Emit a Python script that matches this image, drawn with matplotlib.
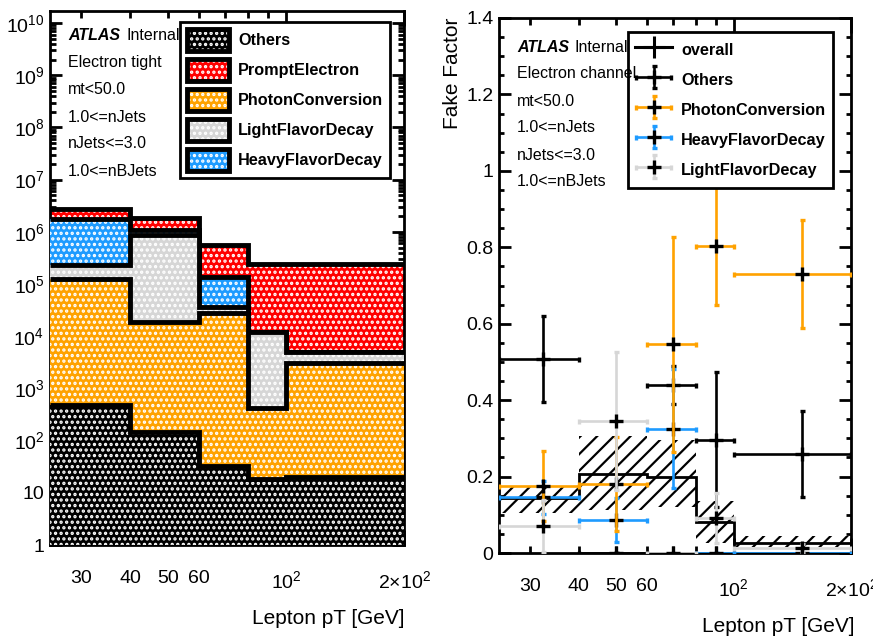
import numpy as np
import matplotlib
matplotlib.use('Agg')
import matplotlib.pyplot as plt
from matplotlib.patches import Patch
from matplotlib.lines import Line2D
from matplotlib.ticker import FixedLocator, FixedFormatter, NullFormatter, LogLocator, MultipleLocator, FuncFormatter
from matplotlib.legend_handler import HandlerErrorbar, HandlerTuple
from matplotlib.container import ErrorbarContainer

plt.rcParams['font.family'] = ['Liberation Sans', 'DejaVu Sans']
plt.rcParams['mathtext.fontset'] = 'custom'
plt.rcParams['mathtext.rm'] = 'Liberation Sans'
plt.rcParams['mathtext.it'] = 'Liberation Sans:italic'
plt.rcParams['mathtext.bf'] = 'Liberation Sans:bold'
plt.rcParams['hatch.linewidth'] = 1.6

# ---------------- data ----------------
pt_edges = [25, 40, 60, 80, 100, 200]

# left panel: stacked yields (bottom -> top)
others_yield = [479, 148, 33, 18, 20]
photon_yield = [1.245e5, 1.885e4, 2.8e4, 402, 3080]
light_yield = [1.06e5, 8.31e5, 8.0e3, 1.16e4, 1.8e3]
heavy_yield = [1.53e6, 2.5e5, 1.0e5, 0, 0]
prompt_yield = [9.8e5, 7.5e5, 4.24e5, 2.28e5, 2.35e5]

# right panel: fake factors
ff_overall = [0.143, 0.207, 0.200, 0.080, 0.027]
ff_overall_lo = [0.105, 0.113, 0.120, 0.025, 0.017]
ff_overall_hi = [0.173, 0.305, 0.295, 0.135, 0.045]
ff_others = [0.507, 0.0, 0.440, 0.297, 0.259]
ff_others_err = [0.113, 0.0, 0.05, 0.177, 0.113]
ff_photon = [0.176, 0.181, 0.546, 0.804, 0.730]
ff_photon_err = [0.091, 0.123, 0.282, 0.155, 0.142]
ff_heavy = [0.146, 0.087, 0.325, 0.0, 0.0]
ff_heavy_err = [0.043, 0.058, 0.156, 0.0, 0.0]
ff_light = [0.071, 0.345, 0.0, 0.091, 0.013]
ff_light_err = [0.068, 0.180, 0.0, 0.066, 0.010]

left_text = ['Electron tight', 'mt<50.0', '1.0<=nJets', 'nJets<=3.0', '1.0<=nBJets']
right_text = ['Electron channel', 'mt<50.0', '1.0<=nJets', 'nJets<=3.0', '1.0<=nBJets']

x_major = [100, 200]
x_major_labels = ['$10^{2}$', '$2{\\times}10^{2}$']
x_minor = [30, 40, 50, 60, 70, 80, 90]
x_minor_labels = ['30', '40', '50', '60', '', '', '']

# ---------------- figure ----------------
W, H = 873, 641
fig = plt.figure(figsize=(W / 100, H / 100), dpi=100)


def rect(x0, y0, x1, y1):
    return [x0 / W, 1 - y1 / H, (x1 - x0) / W, (y1 - y0) / H]


def fx(x):
    return x / W


def fy(y):
    return 1 - y / H


axL = fig.add_axes(rect(50, 10.7, 404, 545))
axR = fig.add_axes(rect(499, 18, 851, 553))

edges = np.array(pt_edges, dtype=float)
centers = 0.5 * (edges[:-1] + edges[1:])
halfw = 0.5 * (edges[1:] - edges[:-1])

# ---------------- left: stack ----------------
comps = np.array([others_yield, photon_yield, light_yield, heavy_yield, prompt_yield], dtype=float)
cum = np.cumsum(comps, axis=0)
stack_colors = ['#000000', '#ffa200', '#d6d6d6', '#1e9bff', '#ff0000']
axL.set_xscale('log')
axL.set_yscale('log')
axL.set_xlim(25, 200)
axL.set_ylim(1, 10 ** 10.236)
for k in reversed(range(len(comps))):
    z = 2 + (len(comps) - 1 - k) * 2
    axL.stairs(cum[k], edges, baseline=0.5, fill=True, facecolor=stack_colors[k],
               edgecolor='white', linewidth=0, hatch='...', zorder=z)
    axL.stairs(cum[k], edges, baseline=None, fill=False, edgecolor='black',
               linewidth=3.5, zorder=z + 1)

# ---------------- right: fake factors ----------------
axR.set_xscale('log')
axR.set_xlim(25, 200)
axR.set_ylim(0, 1.4)
axR.stairs(ff_overall_hi, edges, baseline=ff_overall_lo, fill=True, facecolor='none',
           edgecolor='black', linewidth=0, hatch='//', zorder=2)
axR.stairs(ff_overall, edges, baseline=None, fill=False, edgecolor='black',
           linewidth=2.0, zorder=3)

ekw = dict(fmt='+', mec='black', mfc='black', ms=10, mew=2.4, elinewidth=1.9,
           capsize=1.8, capthick=1.9)
e_others = axR.errorbar(centers, ff_others, xerr=halfw, yerr=ff_others_err,
                        ecolor='black', zorder=4, **ekw)
e_heavy = axR.errorbar(centers, ff_heavy, xerr=halfw, yerr=ff_heavy_err,
                       ecolor='#1e9bff', zorder=5, **ekw)
e_photon = axR.errorbar(centers, ff_photon, xerr=halfw, yerr=ff_photon_err,
                        ecolor='#ffa200', zorder=6, **ekw)
e_light = axR.errorbar(centers, ff_light, xerr=halfw, yerr=ff_light_err,
                       ecolor='#d6d6d6', zorder=7, **ekw)

# ---------------- axes styling ----------------
for ax in (axL, axR):
    for s in ax.spines.values():
        s.set_linewidth(2)
    ax.tick_params(which='both', direction='in', top=True, right=True, width=2,
                   labelsize=14)
    ax.tick_params(axis='x', which='major', length=10.5, pad=18)
    ax.tick_params(axis='x', which='minor', length=5, pad=18)
    ax.tick_params(axis='y', which='major', length=8.5, pad=4)
    ax.tick_params(axis='y', which='minor', length=4)
    ax.xaxis.set_major_locator(FixedLocator(x_major))
    ax.xaxis.set_major_formatter(FixedFormatter(x_major_labels))
    ax.xaxis.set_minor_locator(FixedLocator(x_minor))
    ax.xaxis.set_minor_formatter(FixedFormatter(x_minor_labels))
    ax.tick_params(axis='x', which='minor', labelsize=14)


def log_label(v, p):
    if v <= 1.0001:
        return '1'
    if abs(v - 10) < 1e-6:
        return '10'
    return '$10^{%d}$' % int(round(np.log10(v)))


axL.yaxis.set_major_locator(LogLocator(base=10, numticks=20))
axL.yaxis.set_major_formatter(FuncFormatter(log_label))
axL.yaxis.set_minor_locator(LogLocator(base=10, subs=np.arange(2, 10), numticks=100))
axL.yaxis.set_minor_formatter(NullFormatter())

axR.yaxis.set_major_locator(MultipleLocator(0.2))
axR.yaxis.set_major_formatter(FuncFormatter(lambda v, p: '%g' % round(v, 2)))
axR.yaxis.set_minor_locator(MultipleLocator(0.05))
axR.tick_params(axis='y', which='minor', length=3.5)

# axis titles
fig.text(fx(405), fy(618), 'Lepton pT [GeV]', ha='right', va='center', fontsize=15)
fig.text(fx(855), fy(627), 'Lepton pT [GeV]', ha='right', va='center', fontsize=15)
fig.text(fx(452), fy(18), 'Fake Factor', ha='center', va='top', rotation=90, fontsize=15)

# ATLAS labels
for (x0, xi, y0, lines) in [(68, 127, 36, left_text), (517, 574, 47, right_text)]:
    fig.text(fx(x0), fy(y0), 'ATLAS', fontweight='bold', style='italic', fontsize=11.5,
             ha='left', va='center')
    fig.text(fx(xi), fy(y0), 'Internal', fontsize=11.5, ha='left', va='center')
    for i, t in enumerate(lines):
        fig.text(fx(x0), fy(y0 + 27 * (i + 1)), t, fontsize=11.5, ha='left', va='center')

# ---------------- legends ----------------
leg_order = [0, 4, 1, 2, 3]
leg_names = ['Others', 'PromptElectron', 'PhotonConversion', 'LightFlavorDecay', 'HeavyFlavorDecay']
handlesL = []
for k in leg_order:
    handlesL.append((Patch(facecolor=stack_colors[k], edgecolor='white', linewidth=0, hatch='...'),
                     Patch(facecolor='none', edgecolor='black', linewidth=3.5)))
legL = axL.legend(handlesL, leg_names, handler_map={tuple: HandlerTuple(ndivide=1, pad=0)},
                  loc='upper left', bbox_to_anchor=(fx(180), fy(22)), bbox_transform=fig.transFigure,
                  borderaxespad=0, fancybox=False, edgecolor='black', framealpha=1,
                  prop={'weight': 'bold', 'size': 11.7}, handlelength=2.6, handleheight=1.75,
                  handletextpad=0.55, labelspacing=0.46, borderpad=0.42)
legL.get_frame().set_linewidth(2)
legL.set_zorder(20)

h_overall = Line2D([], [], color='black', lw=2.2, marker='+', ms=16, mew=2.2)
legR = axR.legend([h_overall, e_others, e_photon, e_heavy, e_light],
                  ['overall', 'Others', 'PhotonConversion', 'HeavyFlavorDecay', 'LightFlavorDecay'],
                  handler_map={ErrorbarContainer: HandlerErrorbar(xerr_size=1.1, yerr_size=0.7)},
                  loc='upper left', bbox_to_anchor=(fx(628), fy(32)), bbox_transform=fig.transFigure,
                  borderaxespad=0, fancybox=False, edgecolor='black', framealpha=1,
                  prop={'weight': 'bold', 'size': 11.7}, handlelength=2.3, handleheight=1.75,
                  handletextpad=0.55, labelspacing=0.46, borderpad=0.42, numpoints=1)
legR.get_frame().set_linewidth(2)
legR.set_zorder(20)

fig.savefig('out.png', dpi=100)
